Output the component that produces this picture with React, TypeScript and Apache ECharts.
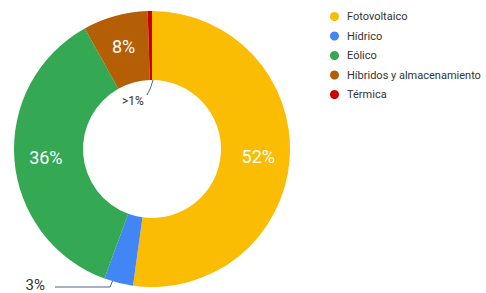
import React, { useEffect, useRef } from "react";
import * as echarts from "echarts";

const categories = ["Fotovoltaico", "Hídrico", "Eólico", "Híbridos y almacenamiento", "Térmica"];
const values = [52.2, 3.4, 36.3, 7.6, 0.5];
const labels = ["52%", "3%", "36%", "8%", ">1%"];
const colors = ["#fbbc04", "#4285f4", "#34a853", "#b45f06", "#cc0000"];
const outsideLabel = [false, true, false, false, true];

const CX = 152;
const CY = 149;
const R_IN = 69;
const R_OUT = 138;
const FONT = "Roboto, Arial, sans-serif";
const LEADER = "#4e6483";

export default function App() {
  const ref = useRef<HTMLDivElement>(null);
  useEffect(() => {
    if (!ref.current) return;
    const chart = echarts.init(ref.current, undefined, { renderer: "svg" });
    const data = categories.map((name, i) => ({
      name,
      value: values[i],
      itemStyle: { color: colors[i] },
      label: outsideLabel[i]
        ? {
            show: true,
            position: "outside" as const,
            formatter: labels[i],
            color: "#333333",
            fontSize: i === 1 ? 15 : 12,
            fontFamily: FONT,
          }
        : {
            show: true,
            position: "inside" as const,
            formatter: labels[i],
            color: "#ffffff",
            fontSize: 18,
            fontFamily: FONT,
          },
      labelLine: outsideLabel[i]
        ? { show: true, lineStyle: { color: LEADER, width: 1 } }
        : { show: false },
    }));
    chart.setOption({
      animation: false,
      legend: {
        orient: "vertical",
        left: 325,
        top: 6,
        icon: "circle",
        itemWidth: 15,
        itemHeight: 9,
        itemGap: 8.5,
        textStyle: { color: "#333333", fontSize: 11, fontFamily: FONT },
        data: categories,
      },
      series: [
        {
          type: "pie",
          center: [CX, CY],
          radius: [R_IN, R_OUT],
          startAngle: 90,
          clockwise: true,
          avoidLabelOverlap: false,
          data,
          labelLayout: (params: any) => {
            if (params.dataIndex === 1) {
              return {
                x: 45,
                y: 285,
                align: "right",
                verticalAlign: "middle",
                labelLinePoints: [
                  [115, 275],
                  [110, 287],
                  [55, 287],
                ],
              };
            }
            if (params.dataIndex === 4) {
              return {
                x: 133,
                y: 101,
                align: "center",
                verticalAlign: "middle",
                labelLinePoints: [
                  [CX + 1, CY - R_IN],
                  [CX - 1.5, CY - R_IN + 8],
                  [CX - 5, CY - R_IN + 15],
                ],
              };
            }
            return {};
          },
        },
      ],
    });
    return () => chart.dispose();
  }, []);
  return (
    <div
      ref={ref}
      style={{ position: "fixed", left: 0, top: 0, width: 486, height: 293, background: "#ffffff" }}
    />
  );
}
